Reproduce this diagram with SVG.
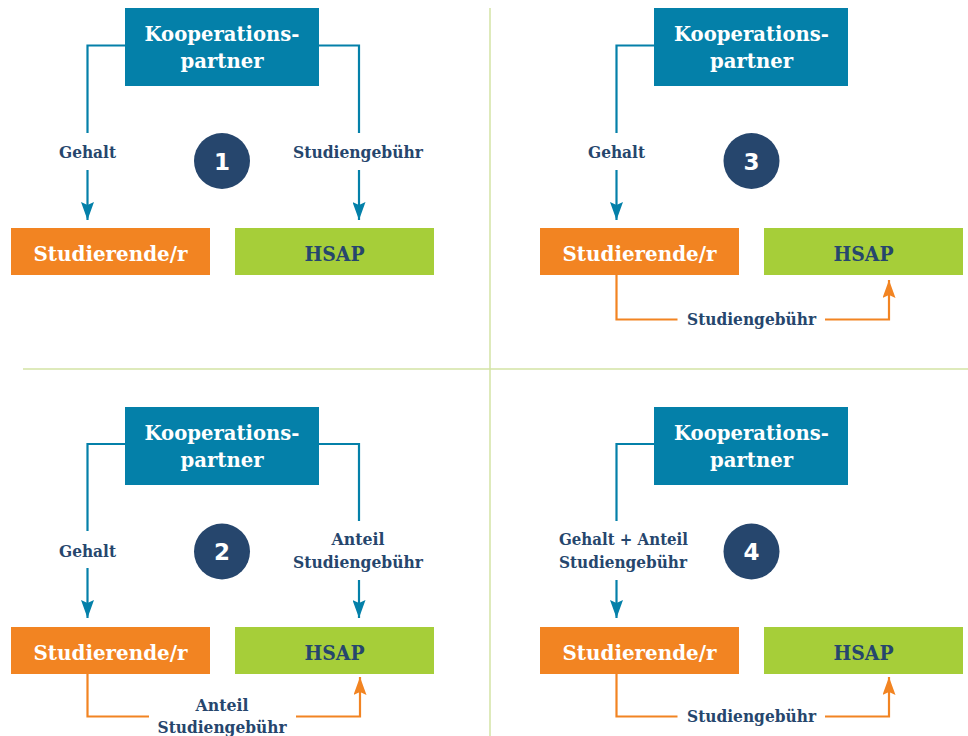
<svg xmlns="http://www.w3.org/2000/svg" width="968" height="736" viewBox="0 0 968 736">
<style>
text{font-family:"DejaVu Serif","Liberation Serif",serif;font-weight:bold;text-anchor:middle}
.kp rect{fill:#0480A9}
.kp text{fill:#ffffff;font-size:21px}
.stud rect{fill:#F28422}
.stud text{fill:#ffffff;font-size:21px}
.hsap rect{fill:#A6CE39}
.hsap text{fill:#26466D;font-size:21px}
.num circle{fill:#26466D}
.num text{fill:#ffffff;font-size:23px;font-family:"DejaVu Sans","Liberation Sans",sans-serif}
.lbl{fill:#26466D;font-size:16px}
.cb{stroke:#0480A9;stroke-width:2.2;fill:none}
.co{stroke:#F28422;stroke-width:2.2;fill:none}
.sep{stroke:#D3E3A5;stroke-width:1.5}
</style>
<defs>
<marker id="ab" viewBox="0 0 18 13" refX="18" refY="6.5" markerWidth="18" markerHeight="13" markerUnits="userSpaceOnUse" orient="auto"><path d="M0,0 L18,6.5 L0,13 L3,6.5 z" fill="#0480A9"/></marker>
<marker id="ao" viewBox="0 0 18 13" refX="18" refY="6.5" markerWidth="18" markerHeight="13" markerUnits="userSpaceOnUse" orient="auto"><path d="M0,0 L18,6.5 L0,13 L3,6.5 z" fill="#F28422"/></marker>
</defs>
<rect width="968" height="736" fill="#ffffff"/>
<g id="separators">
<line class="sep" x1="23" y1="369" x2="968" y2="369"/>
<line class="sep" x1="490" y1="8" x2="490" y2="736"/>
</g>
<g id="connectors">
<path class="cb" d="M125,45.5 H87.5 V133"/>
<path class="cb" d="M87.5,170 V220" marker-end="url(#ab)"/>
<path class="cb" d="M319,45.5 H359 V133"/>
<path class="cb" d="M359,170 V220" marker-end="url(#ab)"/>
<path class="cb" d="M654,45.5 H616.5 V133"/>
<path class="cb" d="M616.5,170 V220" marker-end="url(#ab)"/>
<path class="co" d="M616.5,275 V319.5 H677.5"/>
<path class="co" d="M825,319.5 H889 V280" marker-end="url(#ao)"/>
<path class="cb" d="M125,444 H87.5 V531"/>
<path class="cb" d="M87.5,568 V618" marker-end="url(#ab)"/>
<path class="cb" d="M319,444 H359 V521"/>
<path class="cb" d="M359,580 V618" marker-end="url(#ab)"/>
<path class="co" d="M87.5,674 V716.5 H149"/>
<path class="co" d="M296,716.5 H360 V677" marker-end="url(#ao)"/>
<path class="cb" d="M654,444 H616.5 V521"/>
<path class="cb" d="M616.5,580 V618" marker-end="url(#ab)"/>
<path class="co" d="M616.5,674 V716.5 H677.5"/>
<path class="co" d="M825,716.5 H889 V677" marker-end="url(#ao)"/>
<text class="lbl" x="87.5" y="158" textLength="57" lengthAdjust="spacingAndGlyphs">Gehalt</text>
<text class="lbl" x="358" y="158" textLength="130" lengthAdjust="spacingAndGlyphs">Studiengebühr</text>
<text class="lbl" x="616.5" y="158" textLength="57" lengthAdjust="spacingAndGlyphs">Gehalt</text>
<text class="lbl" x="751.5" y="325" textLength="129" lengthAdjust="spacingAndGlyphs">Studiengebühr</text>
<text class="lbl" x="87.5" y="557" textLength="57" lengthAdjust="spacingAndGlyphs">Gehalt</text>
<text class="lbl" x="358" y="545" textLength="53" lengthAdjust="spacingAndGlyphs">Anteil</text>
<text class="lbl" x="358" y="567.5" textLength="130" lengthAdjust="spacingAndGlyphs">Studiengebühr</text>
<text class="lbl" x="222" y="711" textLength="53" lengthAdjust="spacingAndGlyphs">Anteil</text>
<text class="lbl" x="222" y="733" textLength="129" lengthAdjust="spacingAndGlyphs">Studiengebühr</text>
<text class="lbl" x="623.5" y="545" textLength="129" lengthAdjust="spacingAndGlyphs">Gehalt + Anteil</text>
<text class="lbl" x="623" y="567.5" textLength="128" lengthAdjust="spacingAndGlyphs">Studiengebühr</text>
<text class="lbl" x="751.5" y="722" textLength="129" lengthAdjust="spacingAndGlyphs">Studiengebühr</text>
</g>
<g id="kp1" class="kp"><rect x="125" y="8" width="194" height="78"/><text x="222" y="41" textLength="155" lengthAdjust="spacingAndGlyphs">Kooperations-</text><text x="222" y="68" textLength="83" lengthAdjust="spacingAndGlyphs">partner</text></g>
<g id="stud1" class="stud"><rect x="11" y="228" width="199" height="47"/><text x="110.5" y="261" textLength="154" lengthAdjust="spacingAndGlyphs">Studierende/r</text></g>
<g id="hsap1" class="hsap"><rect x="235" y="228" width="199" height="47"/><text x="334.5" y="261" textLength="60" lengthAdjust="spacingAndGlyphs">HSAP</text></g>
<g id="num1" class="num"><circle cx="222" cy="161" r="28"/><text x="222" y="169.5">1</text></g>
<g id="kp3" class="kp"><rect x="654" y="8" width="194" height="78"/><text x="751.5" y="41" textLength="155" lengthAdjust="spacingAndGlyphs">Kooperations-</text><text x="751.5" y="68" textLength="83" lengthAdjust="spacingAndGlyphs">partner</text></g>
<g id="stud3" class="stud"><rect x="540" y="228" width="199" height="47"/><text x="639.5" y="261" textLength="154" lengthAdjust="spacingAndGlyphs">Studierende/r</text></g>
<g id="hsap3" class="hsap"><rect x="764" y="228" width="199" height="47"/><text x="863.5" y="261" textLength="60" lengthAdjust="spacingAndGlyphs">HSAP</text></g>
<g id="num3" class="num"><circle cx="751.5" cy="161" r="28"/><text x="751.5" y="169.5">3</text></g>
<g id="kp2" class="kp"><rect x="125" y="407" width="194" height="78"/><text x="222" y="440" textLength="155" lengthAdjust="spacingAndGlyphs">Kooperations-</text><text x="222" y="467" textLength="83" lengthAdjust="spacingAndGlyphs">partner</text></g>
<g id="stud2" class="stud"><rect x="11" y="627" width="199" height="47"/><text x="110.5" y="660" textLength="154" lengthAdjust="spacingAndGlyphs">Studierende/r</text></g>
<g id="hsap2" class="hsap"><rect x="235" y="627" width="199" height="47"/><text x="334.5" y="660" textLength="60" lengthAdjust="spacingAndGlyphs">HSAP</text></g>
<g id="num2" class="num"><circle cx="222" cy="551.5" r="28"/><text x="222" y="560">2</text></g>
<g id="kp4" class="kp"><rect x="654" y="407" width="194" height="78"/><text x="751.5" y="440" textLength="155" lengthAdjust="spacingAndGlyphs">Kooperations-</text><text x="751.5" y="467" textLength="83" lengthAdjust="spacingAndGlyphs">partner</text></g>
<g id="stud4" class="stud"><rect x="540" y="627" width="199" height="47"/><text x="639.5" y="660" textLength="154" lengthAdjust="spacingAndGlyphs">Studierende/r</text></g>
<g id="hsap4" class="hsap"><rect x="764" y="627" width="199" height="47"/><text x="863.5" y="660" textLength="60" lengthAdjust="spacingAndGlyphs">HSAP</text></g>
<g id="num4" class="num"><circle cx="751.5" cy="551.5" r="28"/><text x="751.5" y="560">4</text></g>
</svg>
